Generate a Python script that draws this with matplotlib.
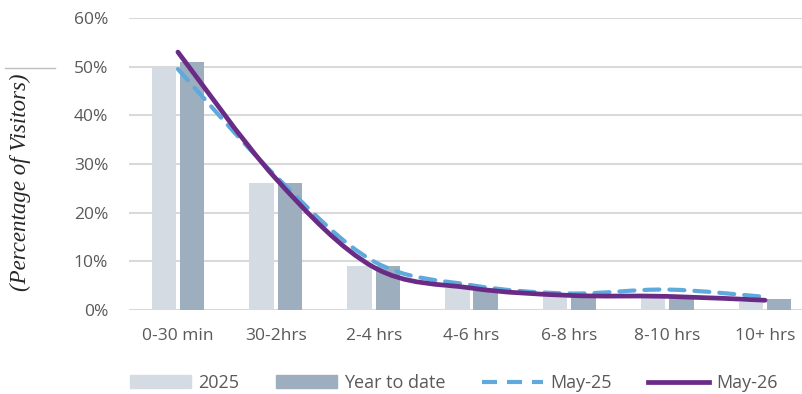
import numpy as np
import matplotlib
matplotlib.use("Agg")
import matplotlib.pyplot as plt
from matplotlib.path import Path
from matplotlib.patches import PathPatch, Patch
from matplotlib.lines import Line2D
from matplotlib.ticker import PercentFormatter

plt.rcParams['font.family'] = ['Open Sans', 'DejaVu Sans']

# 방문 시간대별 방문자 비율
categories = ['0-30 min', '30-2hrs', '2-4 hrs', '4-6 hrs', '6-8 hrs', '8-10 hrs', '10+ hrs']
bar_2025 = [50, 26, 9, 4.5, 3, 3, 1.7]
bar_ytd = [51, 26, 9, 4, 3, 3, 2.3]
line_may25 = [49.5, 27.5, 10, 5.1, 3.4, 4.2, 2.7]
line_may26 = [53, 27, 8.8, 4.5, 3.0, 2.8, 2.0]
yticks = [0, 10, 20, 30, 40, 50, 60]

C_2025 = '#D5DBE2'
C_YTD = '#9DAFBE'
C_M25 = '#5FA9DD'
C_M26 = '#6A2B86'
GRID = '#D9D9D9'
TXT = '#595959'


def smooth_path(xs, ys, t=1.0):
    # 엑셀 '부드러운 선' 처럼 Catmull-Rom -> 베지어 곡선
    pts = np.column_stack([xs, ys]).astype(float)
    ext = np.vstack([pts[0], pts, pts[-1]])
    verts = [pts[0]]
    codes = [Path.MOVETO]
    for i in range(len(pts) - 1):
        p0, p1, p2, p3 = ext[i], ext[i + 1], ext[i + 2], ext[i + 3]
        c1 = p1 + (p2 - p0) * t / 6
        c2 = p2 - (p3 - p1) * t / 6
        verts += [c1, c2, p2]
        codes += [Path.CURVE4] * 3
    return Path(verts, codes)


fig = plt.figure(figsize=(8.03, 3.94), dpi=100)
ax = fig.add_axes([129 / 803, 1 - 310 / 394, 685 / 803, 292 / 394])

x = np.arange(len(categories))
w = 0.25
ax.bar(x - 0.145, bar_2025, width=w, color=C_2025, zorder=2)
ax.bar(x + 0.145, bar_ytd, width=w, color=C_YTD, zorder=2)

ax.add_patch(PathPatch(smooth_path(x, line_may25), fill=False, edgecolor=C_M25,
                       lw=3, linestyle=(0, (3.6, 2.4)), capstyle='round', zorder=3))
ax.add_patch(PathPatch(smooth_path(x, line_may26), fill=False, edgecolor=C_M26,
                       lw=3.4, capstyle='round', zorder=4))

ax.set_xlim(-0.5, len(categories) - 0.5)
ax.set_ylim(0, 60)
ax.set_yticks(yticks)
ax.yaxis.set_major_formatter(PercentFormatter(decimals=0))
ax.set_xticks(x)
ax.set_xticklabels(categories)
ax.tick_params(axis='both', length=0, labelsize=12.5, colors=TXT)
ax.tick_params(axis='x', pad=13)
ax.tick_params(axis='y', pad=15)
ax.grid(axis='y', color=GRID, lw=1.5, zorder=0)
ax.set_axisbelow(True)
for s in ax.spines.values():
    s.set_visible(False)

fig.text(20 / 803, 1 - 182 / 394, '(Percentage of Visitors)', rotation=90,
         ha='center', va='center', fontsize=16.5, style='italic',
         family=['Liberation Serif', 'DejaVu Serif'], color='#262626')
fig.add_artist(Line2D([5 / 803, 55 / 803], [1 - 68 / 394, 1 - 68 / 394],
                      color='#BFBFBF', lw=1))

handles = [Patch(color=C_2025), Patch(color=C_YTD),
           Line2D([], [], color=C_M25, lw=3, linestyle=(0, (3.6, 2.4))),
           Line2D([], [], color=C_M26, lw=3.4)]
labels = ['2025', 'Year to date', 'May-25', 'May-26']
fig.legend(handles, labels, loc='center', bbox_to_anchor=(454 / 803, 1 - 383 / 394),
           ncol=4, frameon=False, fontsize=13, handlelength=3.4, handleheight=0.75,
           columnspacing=2.0, handletextpad=0.4, labelcolor=TXT)

fig.savefig('out.png', dpi=100)
